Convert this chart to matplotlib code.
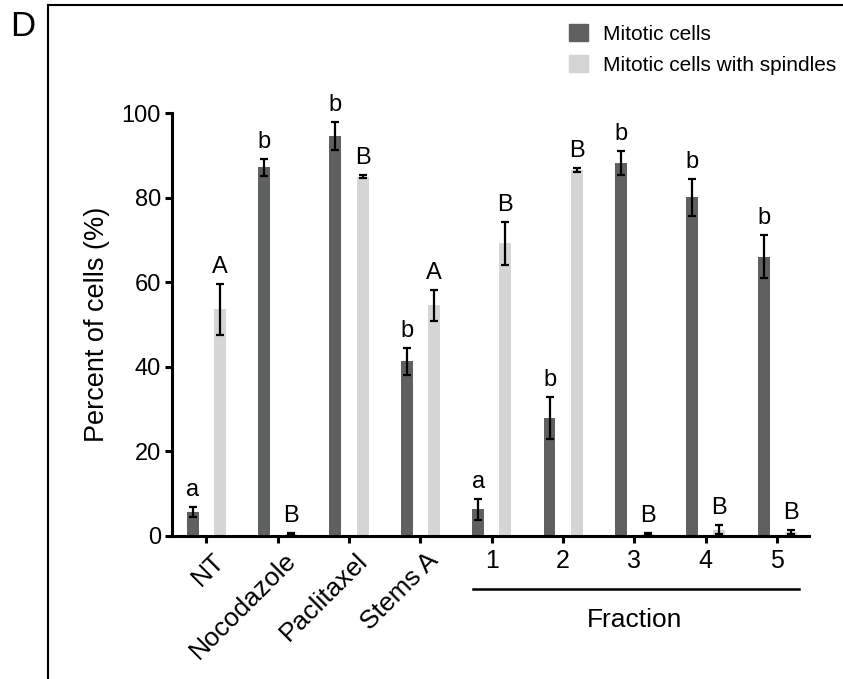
import matplotlib
matplotlib.use("Agg")
import matplotlib.pyplot as plt
from matplotlib.lines import Line2D
from matplotlib.transforms import ScaledTranslation
import numpy as np

plt.rcParams['font.family'] = ['Liberation Sans', 'DejaVu Sans']

categories = ["NT", "Nocodazole", "Paclitaxel", "Stems A", "1", "2", "3", "4", "5"]
mitotic = [5.7, 87.2, 94.6, 41.3, 6.3, 27.9, 88.3, 80.1, 66.1]
mitotic_err = [1.2, 2.0, 3.4, 3.2, 2.4, 5.0, 2.8, 4.3, 5.0]
spindles = [53.6, 0.4, 85.0, 54.6, 69.2, 86.6, 0.4, 1.5, 1.0]
spindles_err = [6.0, 0.2, 0.4, 3.7, 5.1, 0.5, 0.2, 1.0, 0.5]
mitotic_letters = ["a", "b", "b", "b", "a", "b", "b", "b", "b"]
spindle_letters = ["A", "B", "B", "A", "B", "B", "B", "B", "B"]
yticks = [0, 20, 40, 60, 80, 100]

dark = "#5f6060"
light = "#d4d5d5"

fig = plt.figure(figsize=(8.43, 6.79), dpi=100)
ax = fig.add_axes([0.204, 1 - 536 / 679, 0.756, (536 - 113.3) / 679])

x = np.arange(len(categories))
off = 0.19
w = 0.168
ekw = dict(ecolor="black", elinewidth=1.6, capsize=3, capthick=1.6)
ax.bar(x - off, mitotic, w, color=dark, yerr=mitotic_err, error_kw=ekw, label="Mitotic cells")
ax.bar(x + off, spindles, w, color=light, yerr=spindles_err, error_kw=ekw,
       label="Mitotic cells with spindles")

for i in range(len(categories)):
    ax.text(x[i] - off, mitotic[i] + mitotic_err[i] + 2.6, mitotic_letters[i],
            ha="center", va="baseline", fontsize=17, clip_on=False)
    ax.text(x[i] + off, spindles[i] + spindles_err[i] + 2.6, spindle_letters[i],
            ha="center", va="baseline", fontsize=17, clip_on=False)

ax.set_ylim(0, 100)
ax.set_xlim(-0.48, 8.45)
ax.set_yticks(yticks)
ax.tick_params(axis="y", labelsize=17, width=2.2, length=5, pad=3)
ax.tick_params(axis="x", labelsize=18, width=2.2, length=5, pad=4)
ax.set_xticks(x)
ax.set_xticklabels(categories)
shift = ScaledTranslation(6 / 100, 0, fig.dpi_scale_trans)
for i, lab in enumerate(ax.get_xticklabels()):
    if i < 4:
        lab.set_rotation(45)
        lab.set_ha("right")
        lab.set_va("top")
        lab.set_rotation_mode("anchor")
        lab.set_fontsize(19)
        lab.set_transform(lab.get_transform() + shift)
for s in ["top", "right"]:
    ax.spines[s].set_visible(False)
for s in ["left", "bottom"]:
    ax.spines[s].set_linewidth(2.2)
ax.set_ylabel("Percent of cells (%)", fontsize=19.5, labelpad=8)

# Fraction bracket
ax.plot([3.74, 8.3], [-12.5, -12.5], color="black", lw=1.8, clip_on=False)
ax.text(6.0, -21.6, "Fraction", ha="center", va="baseline", fontsize=19)

# Legend
leg = fig.legend(handles=[plt.Rectangle((0, 0), 1, 1, color=dark),
                          plt.Rectangle((0, 0), 1, 1, color=light)],
                 labels=["Mitotic cells", "Mitotic cells with spindles"],
                 loc="upper left", bbox_to_anchor=(569 / 843, 1 - 24 / 679), frameon=False,
                 fontsize=15, handlelength=0.9, handleheight=0.87, handletextpad=0.72,
                 labelspacing=0.55, borderpad=0, borderaxespad=0)

# Panel frame and label
fig.add_artist(Line2D([48 / 843, 48 / 843], [0, 1 - 5 / 679], color="black", lw=1.5))
fig.add_artist(Line2D([48 / 843, 1], [1 - 5 / 679, 1 - 5 / 679], color="black", lw=1.5))
fig.text(10 / 843, 1 - 26 / 679, "D", fontsize=25, va="center", ha="left")

fig.savefig("out.png", dpi=100)
